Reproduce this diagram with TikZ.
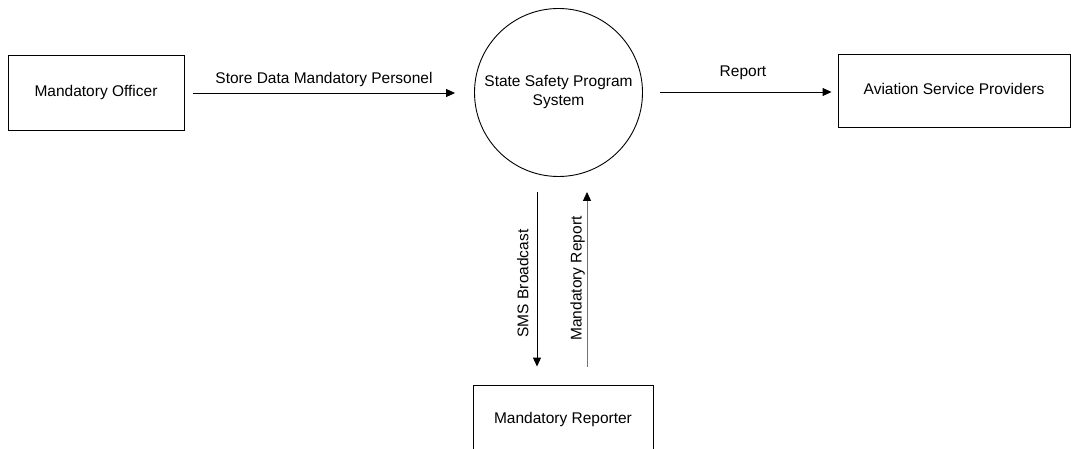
\documentclass[tikz,border=0pt]{standalone}
\usepackage{fontspec}
\setmainfont{Liberation Sans}
\usetikzlibrary{arrows.meta}

\tikzset{
  entity/.style={draw, line width=0.9pt, inner sep=0pt},
  process/.style={draw, circle, line width=0.9pt, minimum size=168pt, inner sep=0pt},
  flow/.style={line width=0.9pt, -{Triangle[length=9pt,width=8pt,color=black]}},
  lbl/.style={inner sep=0pt, anchor=base},
  txt/.style={font=\fontsize{15.5}{19}\selectfont}
}

\begin{document}
\begin{tikzpicture}[x=1pt, y=-1pt, txt]
  \useasboundingbox (0,0) rectangle (1071,449);

  % external entities and the central process
  \node[entity, minimum width=176pt, minimum height=75pt] (officer) at (96,92.5) {};
  \node[lbl] (officerT) at (96,96.7) {Mandatory Officer};

  \node[process] (ssp) at (558.5,92.5) {};
  \node[lbl] (sspT1) at (558.5,87) {State Safety Program};
  \node[lbl] (sspT2) at (558.5,106) {System};

  \node[entity, minimum width=232pt, minimum height=73pt] (avi) at (954,90.5) {};
  \node[lbl] (aviT) at (954,95) {Aviation Service Providers};

  \node[entity, minimum width=180pt, minimum height=80pt] (rep) at (563,425) {};
  \node[lbl] (repT) at (563,423) {Mandatory Reporter};

  % data flows
  \draw[flow, shorten <=9pt, shorten >=19pt] (officer.east |- 0,93) -- (ssp.west |- 0,93);
  \node[lbl] (f1) at (324,83.3) {Store Data Mandatory Personel};

  \draw[flow, shorten <=17pt, shorten >=6pt] (ssp.east |- 0,92) -- (avi.west |- 0,92);
  \node[lbl] (f2) at (743,76.7) {Report};

  \draw[flow, shorten <=15pt, shorten >=18pt] ([xshift=-21.5pt]ssp.south) -- ([xshift=-21.5pt]ssp.south |- rep.north);
  \node[lbl, rotate=90] (f3) at (528.3,283.5) {SMS Broadcast};

  \draw[flow, draw=black!55, shorten <=18pt, shorten >=15pt] ([xshift=28.5pt]ssp.south |- rep.north) -- ([xshift=28.5pt]ssp.south);
  \node[lbl, rotate=90] (f4) at (581.7,278.5) {Mandatory Report};
\end{tikzpicture}
\end{document}
